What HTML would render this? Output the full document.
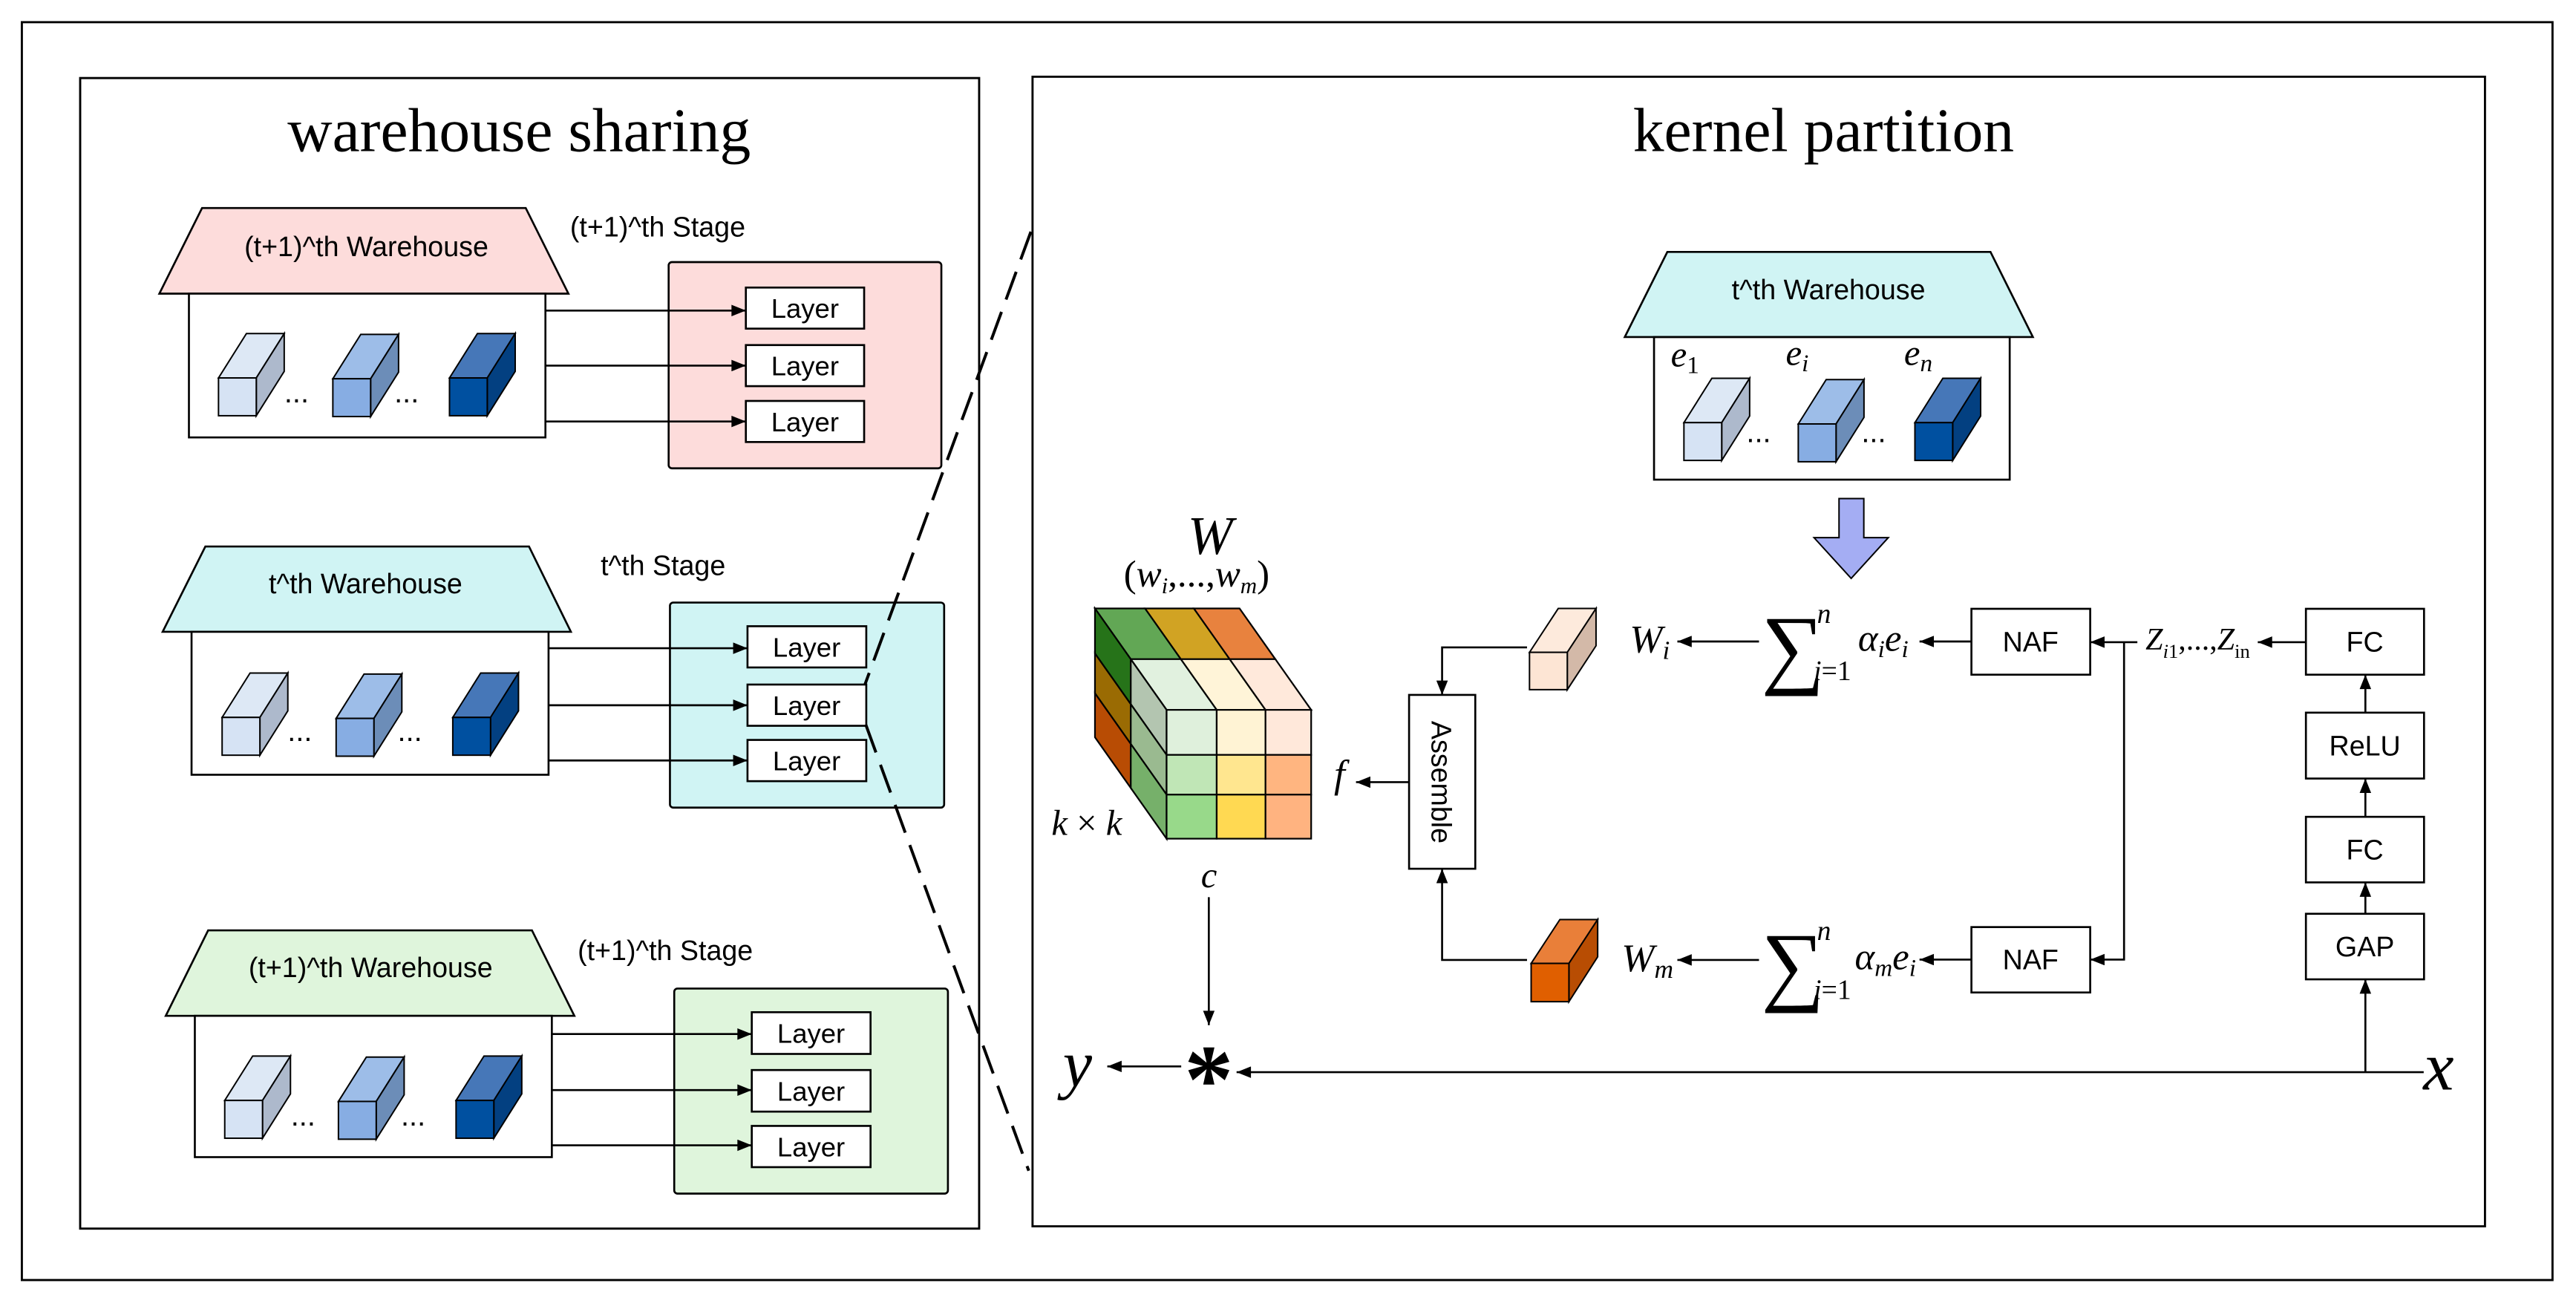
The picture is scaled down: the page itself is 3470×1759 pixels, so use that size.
<!DOCTYPE html>
<html><head><meta charset="utf-8">
<style>
html,body{margin:0;padding:0;background:#fff;}
svg{display:block;}
.s{font-family:"Liberation Sans",Arial,sans-serif;}
.r{font-family:"Liberation Serif","Times New Roman",serif;}
</style></head>
<body>
<svg width="3470" height="1759" viewBox="0 0 1568 794.8" preserveAspectRatio="none" xmlns="http://www.w3.org/2000/svg">
<defs>
<marker id="a" viewBox="0 0 10 8" refX="10" refY="4" markerWidth="9" markerHeight="7" markerUnits="userSpaceOnUse" orient="auto">
<path d="M0,0 L10,4 L0,8 z" fill="#000"/>
</marker>
</defs>
<rect x="0" y="0" width="1568" height="794.8" fill="#fff"/>
<rect x="13.3" y="13.5" width="1540.4" height="765.5" fill="none" stroke="#000" stroke-width="1.3"/>
<rect x="48.8" y="47.5" width="547.2" height="700.2" fill="none" stroke="#000" stroke-width="1.3"/>
<rect x="628.5" y="46.7" width="884.1" height="699.6" fill="none" stroke="#000" stroke-width="1.3"/>

<text x="175" y="92" class="r" font-size="38" textLength="282" lengthAdjust="spacingAndGlyphs">warehouse sharing</text>
<text x="994" y="92" class="r" font-size="38" textLength="232" lengthAdjust="spacingAndGlyphs">kernel partition</text>

<g stroke="#000" stroke-width="1.2">
<polygon points="123,126.6 320,126.6 346,178.7 97,178.7" fill="#fddcdb"/>
<rect x="115" y="178.7" width="217" height="87.5" fill="#fff"/>
<rect x="407" y="159.5" width="166" height="125.5" rx="2" fill="#fddcdb"/>
<rect x="454" y="175" width="72" height="25" fill="#fff"/>
<rect x="454" y="210" width="72" height="25" fill="#fff"/>
<rect x="454" y="244" width="72" height="25" fill="#fff"/>
<line x1="332" y1="189" x2="454" y2="189" marker-end="url(#a)"/>
<line x1="332" y1="222.5" x2="454" y2="222.5" marker-end="url(#a)"/>
<line x1="332" y1="256.5" x2="454" y2="256.5" marker-end="url(#a)"/>

<polygon points="125,332.6 322,332.6 347.5,384.5 99,384.5" fill="#d0f4f4"/>
<rect x="116.6" y="384.5" width="217.3" height="87" fill="#fff"/>
<rect x="407.8" y="366.7" width="166.9" height="124.8" rx="2" fill="#d0f4f4"/>
<rect x="455" y="381.1" width="72.3" height="25.1" fill="#fff"/>
<rect x="455" y="416.6" width="72.3" height="25.1" fill="#fff"/>
<rect x="455" y="450.3" width="72.3" height="25.1" fill="#fff"/>
<line x1="333.9" y1="394.5" x2="455" y2="394.5" marker-end="url(#a)"/>
<line x1="333.9" y1="429.2" x2="455" y2="429.2" marker-end="url(#a)"/>
<line x1="333.9" y1="462.8" x2="455" y2="462.8" marker-end="url(#a)"/>

<polygon points="126.7,566.2 323.8,566.2 349.6,618.2 100.9,618.2" fill="#dff5dc"/>
<rect x="118.6" y="618.2" width="217.3" height="86" fill="#fff"/>
<rect x="410.4" y="601.6" width="166.6" height="124.8" rx="2" fill="#dff5dc"/>
<rect x="457.6" y="616" width="72.3" height="25.4" fill="#fff"/>
<rect x="457.6" y="651.2" width="72.3" height="25.3" fill="#fff"/>
<rect x="457.6" y="685.2" width="72.3" height="25.1" fill="#fff"/>
<line x1="335.9" y1="629.3" x2="457.6" y2="629.3" marker-end="url(#a)"/>
<line x1="335.9" y1="663.4" x2="457.6" y2="663.4" marker-end="url(#a)"/>
<line x1="335.9" y1="697" x2="457.6" y2="697" marker-end="url(#a)"/>
</g>

<g stroke="#000" stroke-width="0.9">
<g transform="translate(133,230)">
<polygon points="0,0 17,-27 40,-27 23,0" fill="#dde8f5"/><polygon points="23,0 40,-27 40,-4 23,23" fill="#adb9cc"/><rect width="23" height="23" fill="#d6e3f4"/></g>
<g transform="translate(202.6,230.5)">
<polygon points="0,0 17,-27 40,-27 23,0" fill="#9dbde8"/><polygon points="23,0 40,-27 40,-4 23,23" fill="#6c8db8"/><rect width="23" height="23" fill="#87ade3"/></g>
<g transform="translate(273.6,230)">
<polygon points="0,0 17,-27 40,-27 23,0" fill="#4677b8"/><polygon points="23,0 40,-27 40,-4 23,23" fill="#034081"/><rect width="23" height="23" fill="#0050a0"/></g>
<g transform="translate(135.2,436.6)">
<polygon points="0,0 17,-27 40,-27 23,0" fill="#dde8f5"/><polygon points="23,0 40,-27 40,-4 23,23" fill="#adb9cc"/><rect width="23" height="23" fill="#d6e3f4"/></g>
<g transform="translate(204.6,437.2)">
<polygon points="0,0 17,-27 40,-27 23,0" fill="#9dbde8"/><polygon points="23,0 40,-27 40,-4 23,23" fill="#6c8db8"/><rect width="23" height="23" fill="#87ade3"/></g>
<g transform="translate(275.6,436.6)">
<polygon points="0,0 17,-27 40,-27 23,0" fill="#4677b8"/><polygon points="23,0 40,-27 40,-4 23,23" fill="#034081"/><rect width="23" height="23" fill="#0050a0"/></g>
<g transform="translate(136.8,669.7)">
<polygon points="0,0 17,-27 40,-27 23,0" fill="#dde8f5"/><polygon points="23,0 40,-27 40,-4 23,23" fill="#adb9cc"/><rect width="23" height="23" fill="#d6e3f4"/></g>
<g transform="translate(206,670.3)">
<polygon points="0,0 17,-27 40,-27 23,0" fill="#9dbde8"/><polygon points="23,0 40,-27 40,-4 23,23" fill="#6c8db8"/><rect width="23" height="23" fill="#87ade3"/></g>
<g transform="translate(277.6,669.7)">
<polygon points="0,0 17,-27 40,-27 23,0" fill="#4677b8"/><polygon points="23,0 40,-27 40,-4 23,23" fill="#034081"/><rect width="23" height="23" fill="#0050a0"/></g>
<g transform="translate(1025,257.2)">
<polygon points="0,0 17,-27 40,-27 23,0" fill="#dde8f5"/><polygon points="23,0 40,-27 40,-4 23,23" fill="#adb9cc"/><rect width="23" height="23" fill="#d6e3f4"/></g>
<g transform="translate(1094.6,258)">
<polygon points="0,0 17,-27 40,-27 23,0" fill="#9dbde8"/><polygon points="23,0 40,-27 40,-4 23,23" fill="#6c8db8"/><rect width="23" height="23" fill="#87ade3"/></g>
<g transform="translate(1165.6,257.2)">
<polygon points="0,0 17,-27 40,-27 23,0" fill="#4677b8"/><polygon points="23,0 40,-27 40,-4 23,23" fill="#034081"/><rect width="23" height="23" fill="#0050a0"/></g>
<g transform="translate(931,397)">
<polygon points="0,0 17.5,-26.7 40.5,-26.7 23,0" fill="#fdeadc"/><polygon points="23,0 40.5,-26.7 40.5,-4 23,22.7" fill="#d3b9a8"/><rect width="23" height="22.7" fill="#fde5d4"/></g>
<g transform="translate(932,586.3)">
<polygon points="0,0 17.5,-26.7 40.5,-26.7 23,0" fill="#e97f39"/><polygon points="23,0 40.5,-26.7 40.5,-4 23,23.3" fill="#b84d03"/><rect width="23" height="23.3" fill="#e05f00"/></g>
</g>

<g class="s" font-size="18">
<text x="173" y="245">...</text><text x="240" y="245">...</text>
<text x="175" y="451">...</text><text x="242" y="451">...</text>
<text x="177" y="685">...</text><text x="244" y="685">...</text>
<text x="1063" y="269">...</text><text x="1133" y="269">...</text>
</g>

<g class="s" font-size="17">
<text x="223" y="156" text-anchor="middle">(t+1)^th Warehouse</text>
<text x="347" y="144">(t+1)^th Stage</text>
<text x="222.5" y="361" text-anchor="middle">t^th Warehouse</text>
<text x="365.6" y="350">t^th Stage</text>
<text x="225.6" y="594.6" text-anchor="middle">(t+1)^th Warehouse</text>
<text x="351.6" y="584.3">(t+1)^th Stage</text>
</g>
<g class="s" font-size="16.5" text-anchor="middle">
<text x="490" y="193.5">Layer</text><text x="490" y="228.5">Layer</text><text x="490" y="262.5">Layer</text>
<text x="491" y="399.7">Layer</text><text x="491" y="435.2">Layer</text><text x="491" y="468.9">Layer</text>
<text x="493.7" y="634.7">Layer</text><text x="493.7" y="669.9">Layer</text><text x="493.7" y="703.8">Layer</text>
</g>

<g stroke="#000" stroke-width="1.8" stroke-dasharray="18,8" fill="none">
<line x1="627.5" y1="141" x2="526.5" y2="416.6"/>
<line x1="527" y1="441" x2="626.2" y2="712.5"/>
</g>

<g stroke="#000" stroke-width="1.2">
<polygon points="1014.9,153.3 1211.6,153.3 1237.4,205.1 989,205.1" fill="#d0f4f4"/>
<rect x="1006.8" y="205.1" width="216.5" height="86.8" fill="none"/>
</g>
<text x="1113" y="182" class="s" font-size="17" text-anchor="middle">t^th Warehouse</text>
<g class="r" font-style="italic" font-size="22">
<text x="1017" y="223">e<tspan font-style="normal" font-size="15" dy="4">1</tspan></text>
<text x="1087" y="222">e<tspan font-size="15" dy="4">i</tspan></text>
<text x="1159" y="222">e<tspan font-size="15" dy="4">n</tspan></text>
</g>
<polygon points="1119.4,303.4 1134.5,303.4 1134.5,327.2 1149.4,327.2 1126.8,352 1104.2,327.2 1119.4,327.2" fill="#a4adf3" stroke="#000" stroke-width="0.9"/>

<g stroke="#000" stroke-width="1">
<polygon points="666.5,370.3 697,370.3 718.8,401.15 688.3,401.15" fill="#62a755"/>
<polygon points="697,370.3 726.7,370.3 748.5,401.15 718.8,401.15" fill="#d1a323"/>
<polygon points="726.7,370.3 754.5,370.3 776.3,401.15 748.5,401.15" fill="#e8823e"/>
<polygon points="688.3,401.15 718.8,401.15 740.6,432 710.1,432" fill="#e1f1df"/>
<polygon points="718.8,401.15 748.5,401.15 770.3,432 740.6,432" fill="#fff4d8"/>
<polygon points="748.5,401.15 776.3,401.15 798.1,432 770.3,432" fill="#ffe9db"/>
<polygon points="666.5,370.3 688.3,401.15 688.3,428.55 666.5,397.7" fill="#267319"/>
<polygon points="666.5,397.7 688.3,428.55 688.3,452.75 666.5,421.9" fill="#9a6b03"/>
<polygon points="666.5,421.9 688.3,452.75 688.3,479.55 666.5,448.7" fill="#b84c04"/>
<polygon points="688.3,401.15 710.1,432 710.1,459.4 688.3,428.55" fill="#b3c5b0"/>
<polygon points="688.3,428.55 710.1,459.4 710.1,483.6 688.3,452.75" fill="#9aba90"/>
<polygon points="688.3,452.75 710.1,483.6 710.1,510.4 688.3,479.55" fill="#76b06a"/>
<rect x="710.1" y="432" width="30.5" height="27.4" fill="#dff0dc"/>
<rect x="740.6" y="432" width="29.7" height="27.4" fill="#fff3d4"/>
<rect x="770.3" y="432" width="27.8" height="27.4" fill="#ffe8da"/>
<rect x="710.1" y="459.4" width="30.5" height="24.2" fill="#c0e6b6"/>
<rect x="740.6" y="459.4" width="29.7" height="24.2" fill="#ffe68f"/>
<rect x="770.3" y="459.4" width="27.8" height="24.2" fill="#ffb580"/>
<rect x="710.1" y="483.6" width="30.5" height="26.8" fill="#98d98a"/>
<rect x="740.6" y="483.6" width="29.7" height="26.8" fill="#ffd952"/>
<rect x="770.3" y="483.6" width="27.8" height="26.8" fill="#ffb380"/>
</g>
<g class="r" font-style="italic">
<text x="736.6" y="337" font-size="33" text-anchor="middle">W</text>
<text x="684" y="357" font-size="23"><tspan font-style="normal">(</tspan>w<tspan font-size="14" dy="4">i</tspan><tspan dy="-4" font-style="normal">,...,</tspan>w<tspan font-size="14" dy="4">m</tspan><tspan dy="-4" font-style="normal">)</tspan></text>
<text x="640" y="508" font-size="22">k <tspan font-style="normal">×</tspan> k</text>
<text x="812" y="479" font-size="24">f</text>
<text x="731" y="540" font-size="22">c</text>
<text x="647" y="661" font-size="40">y</text>
<text x="1475" y="663" font-size="42">x</text>
</g>
<text x="735.8" y="677" class="r" font-size="60" font-weight="bold" text-anchor="middle">*</text>

<rect x="857.7" y="422.9" width="40.3" height="105.8" fill="#fff" stroke="#000" stroke-width="1.2"/>
<text transform="translate(871.5,476) rotate(90)" class="s" font-size="17" text-anchor="middle">Assemble</text>

<g stroke="#000" stroke-width="1.2" fill="#fff">
<rect x="1200" y="370.5" width="72.3" height="40.1"/>
<rect x="1200" y="564.2" width="72.3" height="39.8"/>
<rect x="1403.6" y="370.5" width="71.9" height="40.1"/>
<rect x="1403.6" y="433.7" width="71.9" height="40.1"/>
<rect x="1403.6" y="497.1" width="71.9" height="39.9"/>
<rect x="1403.6" y="556.1" width="71.9" height="39.9"/>
</g>
<g class="s" font-size="17" text-anchor="middle">
<text x="1236" y="396.6">NAF</text>
<text x="1236" y="590">NAF</text>
<text x="1439.5" y="396.6">FC</text>
<text x="1439.5" y="459.8">ReLU</text>
<text x="1439.5" y="523">FC</text>
<text x="1439.5" y="582">GAP</text>
</g>

<g stroke="#000" stroke-width="1.2" fill="none">
<line x1="1439.8" y1="652.5" x2="1439.8" y2="596" marker-end="url(#a)"/>
<line x1="1439.8" y1="556.1" x2="1439.8" y2="537" marker-end="url(#a)"/>
<line x1="1439.8" y1="497.1" x2="1439.8" y2="473.8" marker-end="url(#a)"/>
<line x1="1439.8" y1="433.7" x2="1439.8" y2="410.6" marker-end="url(#a)"/>
<line x1="1403.6" y1="390.8" x2="1374.3" y2="390.8" marker-end="url(#a)"/>
<line x1="1301" y1="390.8" x2="1272.3" y2="390.8" marker-end="url(#a)"/>
<polyline points="1292.9,390.8 1292.9,584 1272.3,584" marker-end="url(#a)"/>
<line x1="1200" y1="390.4" x2="1168.4" y2="390.4" marker-end="url(#a)"/>
<line x1="1200" y1="584" x2="1168.4" y2="584" marker-end="url(#a)"/>
<line x1="1070.7" y1="390.4" x2="1021" y2="390.4" marker-end="url(#a)"/>
<line x1="1070.7" y1="584.2" x2="1021" y2="584.2" marker-end="url(#a)"/>
<polyline points="929.5,394 877.8,394 877.8,422.9" marker-end="url(#a)"/>
<polyline points="929.5,584.2 877.8,584.2 877.8,528.7" marker-end="url(#a)"/>
<line x1="857.7" y1="476" x2="825.4" y2="476" marker-end="url(#a)"/>
<line x1="735.8" y1="546" x2="735.8" y2="623.9" marker-end="url(#a)"/>
<line x1="1475.3" y1="652.5" x2="752.7" y2="652.5" marker-end="url(#a)"/>
<line x1="719" y1="649" x2="674" y2="649" marker-end="url(#a)"/>
</g>

<g class="r">
<text x="1072" y="412" font-size="54">∑</text>
<text x="1106" y="379" font-size="17" font-style="italic">n</text>
<text x="1104" y="414" font-size="17"><tspan font-style="italic">i</tspan>=1</text>
<text x="1131" y="396" font-size="23" font-style="italic">α<tspan font-size="15" dy="4">i</tspan><tspan dy="-4">e</tspan><tspan font-size="15" dy="4">i</tspan></text>
<text x="1072" y="605" font-size="54">∑</text>
<text x="1106" y="572" font-size="17" font-style="italic">n</text>
<text x="1104" y="608" font-size="17"><tspan font-style="italic">i</tspan>=1</text>
<text x="1129" y="590" font-size="23" font-style="italic">α<tspan font-size="15" dy="4">m</tspan><tspan dy="-4">e</tspan><tspan font-size="15" dy="4">i</tspan></text>
<text x="992" y="397" font-size="24" font-style="italic">W<tspan font-size="16" dy="4">i</tspan></text>
<text x="987" y="591" font-size="24" font-style="italic">W<tspan font-size="16" dy="4">m</tspan></text>
<text x="1306" y="395.4" font-size="19" font-style="italic">Z<tspan font-size="12" dy="5">i</tspan><tspan font-size="12" font-style="normal">1</tspan><tspan dy="-5" font-style="normal">,...,</tspan>Z<tspan font-size="12" dy="5" font-style="normal">in</tspan></text>
</g>
</svg>
</body></html>
